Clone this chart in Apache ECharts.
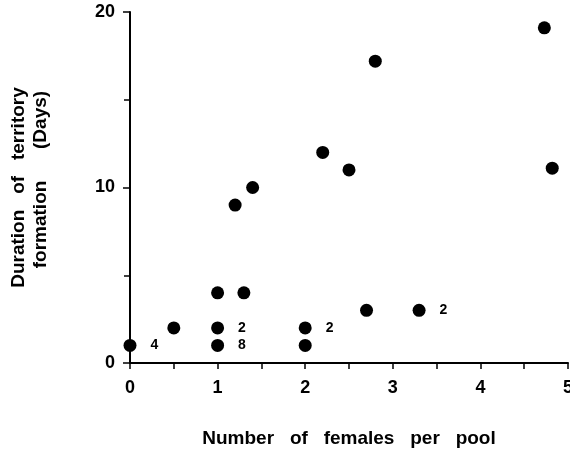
<!DOCTYPE html>
<html lang="en">
<head>
    <meta charset="UTF-8">
    <title>Territory formation</title>
    <script src="https://cdn.jsdelivr.net/npm/echarts@6/dist/echarts.min.js"></script>
    <style>
        html, body { margin: 0; padding: 0; background: #fff; }
        #chart { width: 570px; height: 449px; }
    </style>
</head>
<body>
    <div id="chart"></div>
    <script>
        // females per pool vs days to form territory
        const females = [0, 0.5, 1, 1, 1, 1.3, 2, 2, 2.7, 3.3, 1.2, 1.4, 2.2, 2.5, 2.8, 4.73, 4.82];
        const days    = [1, 2, 1, 2, 4, 4, 1, 2, 3, 3, 9, 10, 12, 11, 17.2, 19.1, 11.1];
        // number of overlapping observations (empty = single)
        const counts  = ['4', '', '8', '2', '', '', '', '2', '', '2', '', '', '', '', '', '', ''];
        const xTicks = [0, 1, 2, 3, 4, 5];
        const yTicks = [0, 10, 20];

        const font = 'Liberation Sans, Arial, sans-serif';
        const points = females.map((x, i) => ({
            value: [x, days[i]],
            label: { show: counts[i] !== '', formatter: counts[i] }
        }));

        const chart = echarts.init(document.getElementById('chart'));
        chart.setOption({
            animation: false,
            grid: { left: 130, right: 2, top: 12, bottom: 86, outerBoundsMode: 'none' },
            xAxis: {
                type: 'value',
                min: xTicks[0], max: xTicks[xTicks.length - 1], interval: 1,
                name: 'Number   of   females   per   pool',
                nameLocation: 'middle', nameGap: 66,
                nameTextStyle: { fontFamily: font, fontWeight: 'bold', fontSize: 19, color: '#000' },
                axisLine: { lineStyle: { color: '#000', width: 2 } },
                axisTick: { inside: false, length: 6, lineStyle: { color: '#000', width: 1.5 } },
                minorTick: { show: true, splitNumber: 2, length: 6, lineStyle: { color: '#000', width: 1.5 } },
                splitLine: { show: false },
                axisLabel: { margin: 16, fontFamily: font, fontWeight: 'bold', fontSize: 18, color: '#000' }
            },
            yAxis: {
                type: 'value',
                min: yTicks[0], max: yTicks[yTicks.length - 1], interval: 10,
                // leading spaces push the second line toward the top, as in the original
                name: 'Duration   of   territory\n   formation      (Days)',
                nameLocation: 'middle', nameGap: 78, nameRotate: 90,
                nameTextStyle: { fontFamily: font, fontWeight: 'bold', fontSize: 19, color: '#000', lineHeight: 22 },
                axisLine: { lineStyle: { color: '#000', width: 2 } },
                axisTick: { inside: false, length: 7, lineStyle: { color: '#000', width: 1.5 } },
                minorTick: { show: true, splitNumber: 2, length: 6, lineStyle: { color: '#000', width: 1.5 } },
                splitLine: { show: false },
                axisLabel: { margin: 15, fontFamily: font, fontWeight: 'bold', fontSize: 18, color: '#000' }
            },
            series: [{
                type: 'scatter',
                data: points,
                symbol: 'circle',
                symbolSize: 13,
                itemStyle: { color: '#000', opacity: 1 },
                label: {
                    position: 'right', distance: 14,
                    fontFamily: font, fontWeight: 'bold', fontSize: 14, color: '#000'
                }
            }]
        });
    </script>
</body>
</html>
